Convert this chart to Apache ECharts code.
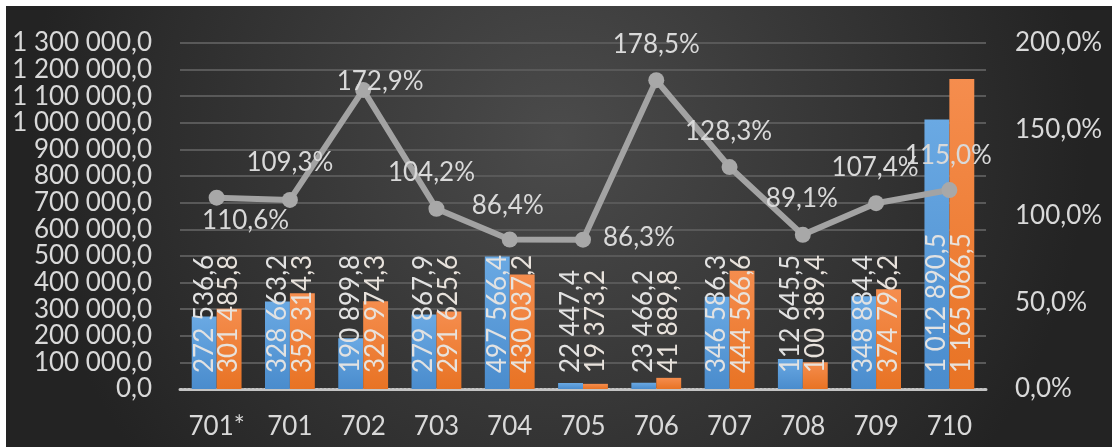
<!DOCTYPE html>
<html>
<head>
<meta charset="utf-8">
<script src="https://cdn.jsdelivr.net/npm/echarts@6/dist/echarts.min.js"></script>
<style>
html,body{margin:0;padding:0;background:#ffffff;}
#chart{width:1112px;height:447px;}
</style>
</head>
<body>
<div id="chart"></div>
<script>
const categories = ['701*', '701', '702', '703', '704', '705', '706', '707', '708', '709', '710'];
const seriesBlue = [272536.6, 328663.2, 190899.8, 279867.9, 497566.4, 22447.4, 23466.2, 346586.3, 112645.5, 348884.4, 1012890.5];
const seriesOrange = [301485.8, 359314.3, 329974.3, 291625.6, 430037.2, 19373.2, 41889.8, 444566.6, 100389.4, 374796.2, 1165066.5];
const ratioPct = [110.6, 109.3, 172.9, 104.2, 86.4, 86.3, 178.5, 128.3, 89.1, 107.4, 115.0];

// label placement (style, not data)
const pctLabelOffsets = [[29, 23], [0, -37], [17, -8], [-5, -36], [-2, -34], [56, -2], [0, -36], [-1, -35], [-1, -36], [-1, -36], [-1, -34]];

function fmtNum(v) {
  const s = Number(v).toFixed(1);
  const parts = s.split('.');
  return parts[0].replace(/\B(?=(\d{3})+(?!\d))/g, ' ') + ',' + parts[1];
}
function fmtPct(v) {
  return Number(v).toFixed(1).replace('.', ',') + '%';
}

const FONT = 'Lato';
const FS = 26;
const TXT = '#d9d9d9';
const chart = echarts.init(document.getElementById('chart'), null, {renderer: 'canvas'});

const option = {
  backgroundColor: '#ffffff',
  animation: false,
  graphic: [{
    type: 'rect',
    z: -10,
    silent: true,
    shape: {x: 6, y: 6, width: 1106, height: 441},
    style: {
      fill: new echarts.graphic.RadialGradient(0.5, 0.3, 1.2, [
        {offset: 0, color: '#4b4b4b'},
        {offset: 1, color: '#232323'}
      ])
    }
  }],
  grid: {left: 180, right: 126, top: 43, bottom: 58, containLabel: false},
  xAxis: {
    type: 'category',
    data: categories,
    axisTick: {show: false},
    axisLine: {show: true, lineStyle: {color: '#c4c4c4', width: 3, type: [2, 2]}},
    axisLabel: {color: TXT, fontFamily: FONT, fontSize: FS, margin: 25}
  },
  yAxis: [{
    type: 'value',
    min: 0,
    max: 1300000,
    interval: 100000,
    axisLine: {show: false},
    axisTick: {show: false},
    splitLine: {show: true, lineStyle: {color: '#595959', width: 2}},
    axisLabel: {color: TXT, fontFamily: FONT, fontSize: FS, margin: 28, formatter: fmtNum}
  }, {
    type: 'value',
    min: 0,
    max: 200,
    interval: 50,
    axisLine: {show: false},
    axisTick: {show: false},
    splitLine: {show: false},
    axisLabel: {color: TXT, fontFamily: FONT, fontSize: FS, margin: 29, formatter: fmtPct}
  }],
  series: [{
    type: 'bar',
    data: seriesBlue,
    barGap: '0%',
    barCategoryGap: '32%',
    itemStyle: {
      color: new echarts.graphic.LinearGradient(0, 0, 0, 1, [
        {offset: 0, color: '#6aa9e3'},
        {offset: 1, color: '#4a8ccd'}
      ])
    },
    label: {
      show: true,
      position: 'insideBottom',
      rotate: 90,
      align: 'left',
      verticalAlign: 'middle',
      distance: 16,
      color: '#e2e2e2',
      fontFamily: FONT,
      fontSize: FS,
      formatter: p => fmtNum(p.value)
    }
  }, {
    type: 'bar',
    data: seriesOrange,
    itemStyle: {
      color: new echarts.graphic.LinearGradient(0, 0, 0, 1, [
        {offset: 0, color: '#f58d4e'},
        {offset: 1, color: '#e87324'}
      ])
    },
    label: {
      show: true,
      position: 'insideBottom',
      rotate: 90,
      align: 'left',
      verticalAlign: 'middle',
      distance: 16,
      color: '#e8e2dc',
      fontFamily: FONT,
      fontSize: FS,
      formatter: p => fmtNum(p.value)
    }
  }, {
    type: 'line',
    yAxisIndex: 1,
    z: 5,
    data: ratioPct.map((v, i) => ({value: v, label: {offset: pctLabelOffsets[i]}})),
    symbol: 'circle',
    symbolSize: 16,
    lineStyle: {color: '#a3a3a3', width: 6},
    itemStyle: {color: '#a8a8a8'},
    label: {
      show: true,
      position: 'inside',
      color: TXT,
      fontFamily: FONT,
      fontSize: FS,
      formatter: p => fmtPct(p.value)
    }
  }]
};
chart.setOption(option);
</script>
</body>
</html>
